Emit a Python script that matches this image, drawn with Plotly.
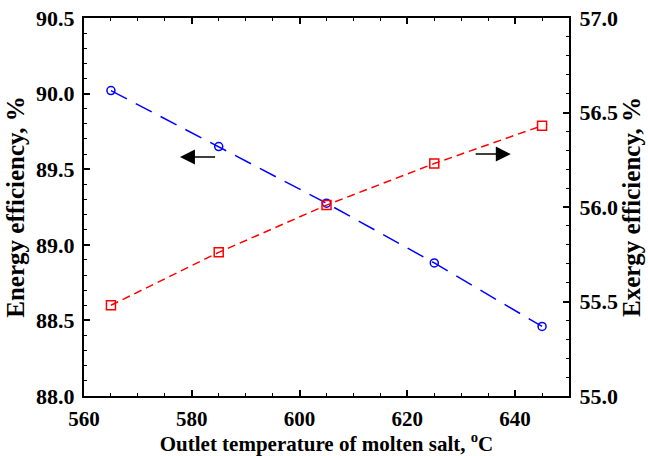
import plotly.graph_objects as go

temperature = [565, 585, 605, 625, 645]
energy_eff = [90.02, 89.65, 89.275, 88.88, 88.46]
exergy_eff = [55.48, 55.76, 56.01, 56.23, 56.43]

x_ticks = [560, 580, 600, 620, 640]
left_ticks = [88.0, 88.5, 89.0, 89.5, 90.0, 90.5]
right_ticks = [55.0, 55.5, 56.0, 56.5, 57.0]

# arrow annotation anchors (data coords): (tail_x, tip_x, y)
left_arrow = (584.6, 577.8, 89.58)
right_arrow = (632.4, 639.2, 56.28)

FONT = "Liberation Serif"
tickfont = dict(family=FONT, size=22, color="black", weight="bold")
xtickfont = dict(family=FONT, size=21, color="black", weight="bold")
xtitlefont = dict(family=FONT, size=21, color="black", weight="bold")
ytitlefont = dict(family=FONT, size=25, color="black", weight="bold")

fig = go.Figure()
fig.add_trace(go.Scatter(
    x=temperature, y=energy_eff, mode="lines+markers",
    line=dict(color="#0000FF", width=1.5, dash="18px,10px"),
    marker=dict(symbol="circle-open", size=8, color="#0000FF", line=dict(width=1.5)),
    yaxis="y", showlegend=False))
fig.add_trace(go.Scatter(
    x=temperature, y=exergy_eff, mode="lines+markers",
    line=dict(color="#FF0000", width=1.5, dash="8px,5px"),
    marker=dict(symbol="square-open", size=9, color="#FF0000", line=dict(width=1.5)),
    yaxis="y2", showlegend=False))

axis_common = dict(showgrid=False, zeroline=False, showline=True, linecolor="black",
                   linewidth=2, ticks="inside", ticklen=6, tickwidth=1.5, tickcolor="black",
                   automargin=False)

fig.update_layout(
    width=648, height=456,
    margin=dict(l=84, r=79, t=18, b=60),
    paper_bgcolor="white", plot_bgcolor="white",
    xaxis=dict(range=[560, 650], tickvals=x_ticks, ticktext=[str(v) for v in x_ticks],
               mirror="ticks", ticklabelstandoff=3, tickfont=xtickfont,
               minor=dict(dtick=5, ticks="inside", ticklen=3, tickcolor="black", tickwidth=1),
               title=dict(text="Outlet temperature of molten salt, <sup>o</sup>C", font=xtitlefont, standoff=9),
               **axis_common),
    yaxis=dict(range=[88, 90.5], tickvals=left_ticks, ticktext=[f"{v:.1f}" for v in left_ticks],
               ticklabelstandoff=3, tickfont=tickfont,
               minor=dict(dtick=0.1, ticks="inside", ticklen=3, tickcolor="black", tickwidth=1),
               title=dict(text="Energy efficiency, %", font=ytitlefont, standoff=4),
               **axis_common),
    yaxis2=dict(range=[55, 57], tickvals=right_ticks, ticktext=[f"{v:.1f}" for v in right_ticks],
                overlaying="y", side="right", ticklabelstandoff=4, tickfont=tickfont,
                minor=dict(dtick=0.1, ticks="inside", ticklen=3, tickcolor="black", tickwidth=1),
                title=dict(text="Exergy efficiency, %", font=ytitlefont, standoff=6),
                **axis_common),
)

fig.add_annotation(x=left_arrow[1], y=left_arrow[2], ax=left_arrow[0], ay=left_arrow[2],
                   xref="x", yref="y", axref="x", ayref="y", text="", showarrow=True,
                   arrowhead=2, arrowsize=2, arrowwidth=1.5, arrowcolor="black")
fig.add_annotation(x=right_arrow[1], y=right_arrow[2], ax=right_arrow[0], ay=right_arrow[2],
                   xref="x", yref="y2", axref="x", ayref="y2", text="", showarrow=True,
                   arrowhead=2, arrowsize=2, arrowwidth=1.5, arrowcolor="black")

fig.write_html("out.html")
